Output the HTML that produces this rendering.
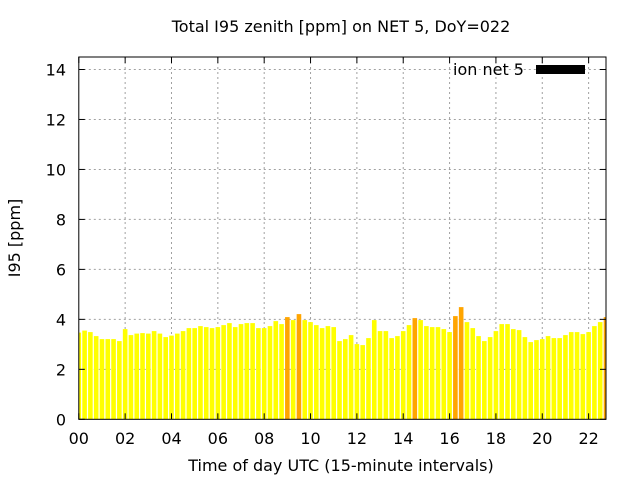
<!DOCTYPE html>
<html><head><meta charset="utf-8"><style>
body{margin:0;background:#fff;width:640px;height:480px;overflow:hidden}
svg{font-family:"DejaVu Sans","Liberation Sans",sans-serif}
</style></head><body>
<svg id="chart" width="640" height="480">
<rect width="640" height="480" fill="#fff"/>
<text x="341" y="32" font-size="16" text-anchor="middle">Total I95 zenith [ppm] on NET 5, DoY=022</text>
<text x="341" y="471" font-size="16" text-anchor="middle">Time of day UTC (15-minute intervals)</text>
<text transform="translate(20,238) rotate(-90)" font-size="16" text-anchor="middle">I95 [ppm]</text>
<g id="grid"></g><g id="bars"></g><g id="axes"></g>
<g>
<text x="453" y="75" font-size="16">ion net 5</text>
<rect x="536" y="65" width="49" height="9" fill="#000"/>
</g>
</svg>
<script>
const values=[3.47,3.55,3.49,3.33,3.21,3.21,3.21,3.13,3.61,3.37,3.43,3.45,3.43,3.53,3.43,3.29,3.35,3.43,3.53,3.65,3.65,3.73,3.69,3.65,3.69,3.77,3.85,3.69,3.81,3.85,3.85,3.65,3.65,3.73,3.93,3.81,4.09,3.97,4.21,3.97,3.89,3.77,3.65,3.73,3.69,3.13,3.21,3.37,3.01,2.97,3.25,3.97,3.53,3.53,3.25,3.33,3.53,3.77,4.05,3.97,3.73,3.69,3.69,3.61,3.49,4.13,4.49,3.89,3.65,3.33,3.13,3.29,3.53,3.81,3.81,3.61,3.57,3.29,3.09,3.17,3.21,3.33,3.25,3.25,3.37,3.49,3.49,3.41,3.49,3.73,3.89,4.09];
const xTicks=[0,2,4,6,8,10,12,14,16,18,20,22];
const xTickLabels=["00","02","04","06","08","10","12","14","16","18","20","22"];
const yTicks=[0,2,4,6,8,10,12,14];
const X0=78.8,X1=606,XMAX=22.75,Y0=419.3,Y1=57,YMAX=14.5;
const sx=h=>X0+h/XMAX*(X1-X0), sy=v=>Y0-v/YMAX*(Y0-Y1);
const NS="http://www.w3.org/2000/svg";
function mk(tag,attrs,parent){const e=document.createElementNS(NS,tag);for(const k in attrs)e.setAttribute(k,attrs[k]);document.getElementById(parent).appendChild(e);return e;}
xTicks.forEach((t,i)=>{
 const x=sx(t);
 if(t>0){const g=mk('line',{x1:x,x2:x,y1:Y1,y2:Y0,stroke:'#a0a0a0','stroke-dasharray':'2,3'},'grid');
 
 }
 const tk=mk('line',{x1:x,x2:x,y1:Y0,y2:Y0-6,stroke:'#000'},'axes');
 
 
 const tk2=mk('line',{x1:x,x2:x,y1:Y1,y2:Y1+6,stroke:'#000'},'axes');
 
 
 const l=mk('text',{x:x,y:444,'font-size':16,'text-anchor':'middle'},'axes');l.textContent=xTickLabels[i];
 
 
});
yTicks.forEach(t=>{
 const y=sy(t);
 if(t>0){const g=mk('line',{x1:X0,x2:X1,y1:y,y2:y,stroke:'#a0a0a0','stroke-dasharray':'2,3'},'grid');
 
 }
 const tk=mk('line',{x1:X0,x2:X0+6,y1:y,y2:y,stroke:'#000'},'axes');
 
 
 const tk2=mk('line',{x1:X1,x2:X1-6,y1:y,y2:y,stroke:'#000'},'axes');
 
 
 const l=mk('text',{x:66,y:y+6,'font-size':16,'text-anchor':'end'},'axes');l.textContent=String(t);
 
 
});
values.forEach((v,i)=>{
 const c=sx(i*0.25), w=4.6;
 let l=Math.max(c-w/2,X0), r=Math.min(c+w/2,X1);
 const b=mk('rect',{x:l,y:sy(v),width:r-l,height:Y0-sy(v),fill:v>4?'#ffa500':'#ffff00'},'bars');
 
 
});
const f=mk('rect',{x:X0,y:Y1,width:X1-X0,height:Y0-Y1,fill:'none',stroke:'#000','stroke-width':1},'axes');


</script>
</body></html>
